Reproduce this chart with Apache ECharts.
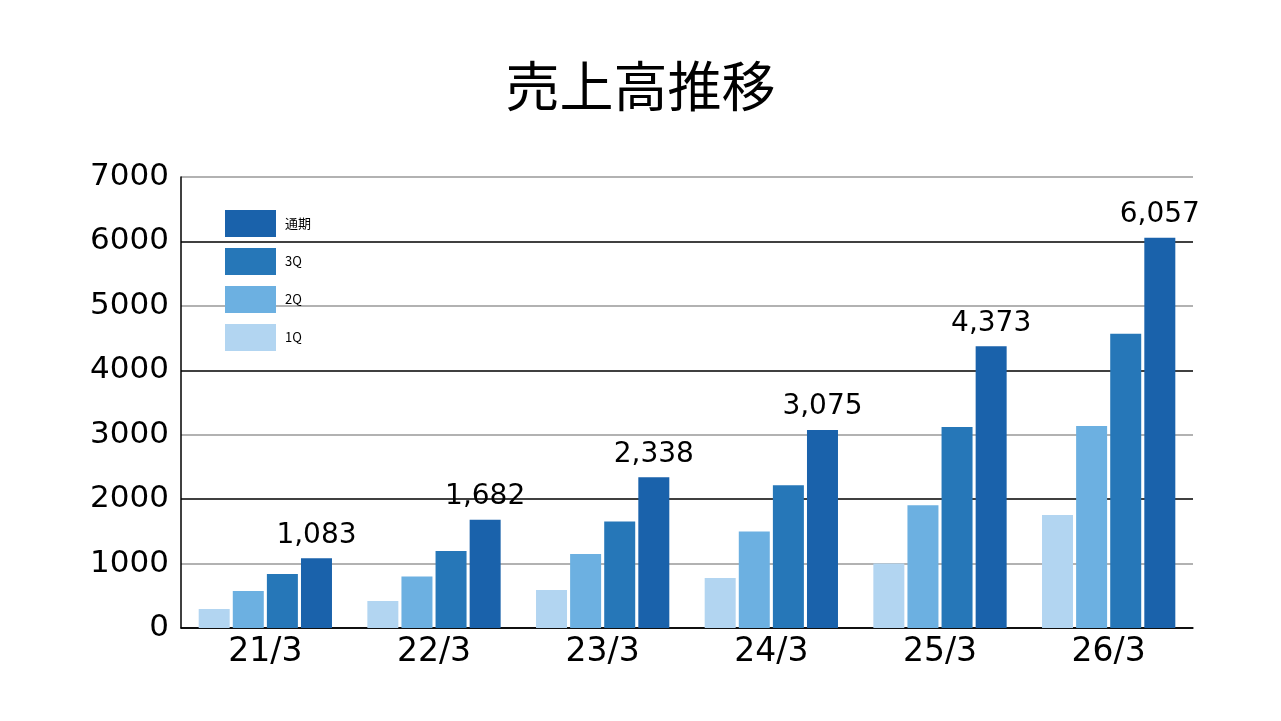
<!DOCTYPE html>
<html>
<head>
<meta charset="utf-8">
<script src="https://cdn.jsdelivr.net/npm/echarts@6/dist/echarts.min.js"></script>
<style>
  html, body { margin: 0; padding: 0; background: #fff; }
  #chart { width: 1281px; height: 721px; }
</style>
</head>
<body>
<div id="chart"></div>
<script>
// 売上高推移 (四半期累計)
var categories = ["21/3", "22/3", "23/3", "24/3", "25/3", "26/3"];
var q1 = [295, 419, 589, 775, 1003, 1752];
var q2 = [574, 801, 1147, 1499, 1907, 3137];
var q3 = [837, 1194, 1654, 2217, 3121, 4568];
var fullYear = [1083, 1682, 2338, 3075, 4373, 6057];
var yTicks = [0, 1000, 2000, 3000, 4000, 5000, 6000, 7000];

var chart = echarts.init(document.getElementById("chart"));

var numFont = "DejaVu Sans";

var option = {
    animation: false,
    title: {
        text: "売上高推移",
        left: "center",
        top: 54,
        textStyle: {
            fontFamily: "Noto Sans CJK JP",
            fontSize: 54,
            fontWeight: "normal",
            color: "#000"
        }
    },
    legend: {
        orient: "vertical",
        left: 220,
        top: 205,
        icon: "rect",
        itemWidth: 51,
        itemHeight: 27,
        itemGap: 11,
        data: ["通期", "3Q", "2Q", "1Q"],
        textStyle: {
            fontFamily: "Noto Sans CJK JP",
            fontSize: 13,
            color: "#000",
            padding: [0, 0, 0, 4]
        }
    },
    grid: { left: 181, right: 88, top: 177, bottom: 93 },
    xAxis: {
        type: "category",
        data: categories,
        axisLine: { lineStyle: { color: "#000", width: 1.5 } },
        axisTick: { show: false },
        axisLabel: {
            margin: 8,
            fontFamily: numFont,
            fontSize: 33,
            color: "#000"
        }
    },
    yAxis: {
        type: "value",
        min: yTicks[0],
        max: yTicks[yTicks.length - 1],
        interval: 1000,
        axisLine: { show: true, lineStyle: { color: "#000", width: 1.5 } },
        axisTick: { show: false },
        splitLine: { lineStyle: { color: ["#000", "#999"], width: 1.5 } },
        axisLabel: {
            margin: 12,
            fontFamily: numFont,
            fontSize: 31,
            color: "#000",
            padding: [6, 0, 0, 0],
            formatter: function (v) { return String(v); }
        }
    },
    series: [
        {
            name: "1Q", type: "bar", data: q1, barWidth: 31, barGap: "10%",
            itemStyle: { color: "#b2d5f1" }
        },
        {
            name: "2Q", type: "bar", data: q2, barWidth: 31, barGap: "10%",
            itemStyle: { color: "#6cb0e1" }
        },
        {
            name: "3Q", type: "bar", data: q3, barWidth: 31, barGap: "10%",
            itemStyle: { color: "#2677b8" }
        },
        {
            name: "通期", type: "bar", data: fullYear, barWidth: 31, barGap: "10%",
            itemStyle: { color: "#1a62ab" },
            label: {
                show: true,
                position: "top",
                distance: 9,
                fontFamily: numFont,
                fontSize: 28,
                color: "#000",
                formatter: function (p) {
                    return p.value.toLocaleString("en-US");
                }
            }
        }
    ]
};

chart.setOption(option);
</script>
</body>
</html>
